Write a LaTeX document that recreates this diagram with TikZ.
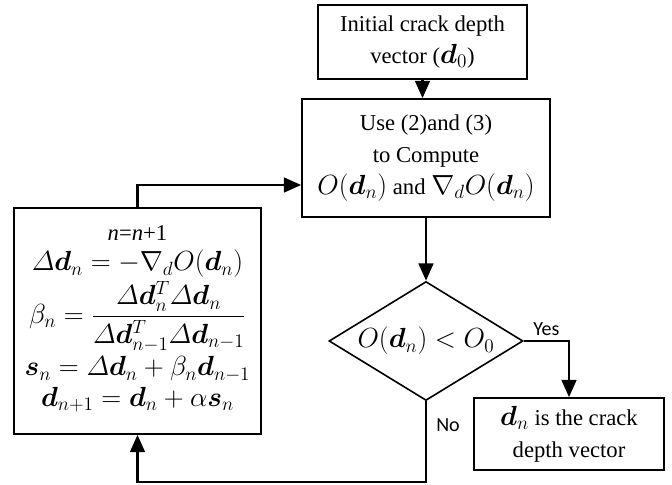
\documentclass[tikz,border=0pt]{standalone}
\usepackage{amsmath}
\usepackage{bm}
\usepackage[no-math]{fontspec}
\setmainfont{Liberation Serif}
\newfontfamily\answerfont{Carlito}
\usetikzlibrary{arrows.meta}
\usetikzlibrary{shapes.geometric}
\usetikzlibrary{positioning}

% math a little larger than the text, as in the figure
\newcommand{\bigmath}[1]{{\fontsize{20}{24}\selectfont$#1$}}

\begin{document}
\begin{tikzpicture}[
    x=0.75pt, y=-0.75pt,
    box/.style={rectangle, draw, line width=1.2pt, align=center, inner sep=2pt,
        font=\fontsize{17}{24}\selectfont},
    decision/.style={diamond, draw, line width=1.2pt, inner sep=0pt},
    answer/.style={font=\answerfont\fontsize{15}{18}\selectfont},
    flow/.style={line width=2pt, -{Triangle[length=13pt, width=11pt]}}
]
\useasboundingbox (0,0) rectangle (672,485);

% --- Start box ---
\node[box, minimum width=156.75pt, minimum height=55.5pt] (init) at (422.5,42)
    {Initial crack depth\\ vector (\bigmath{\bm{d}_0})};

% --- Objective and gradient ---
\node[box, minimum width=186pt, minimum height=88.5pt] (compute) at (426,158)
    {Use (2)and (3)\\ to Compute\\ \bigmath{O(\bm{d}_n)} and \bigmath{\nabla_d O(\bm{d}_n)}};

% --- Stopping test ---
\node[decision, minimum width=145.5pt, minimum height=89.25pt] (check) at (426,341)
    {\makebox[0pt]{\bigmath{O(\bm{d}_n) < O_0}}};

% --- Result box ---
\node[box, minimum width=142.5pt, minimum height=54pt] (result) at (569,434)
    {\bigmath{\bm{d}_n} is the crack\\ depth vector};

% --- Update step ---
\node[box, minimum width=185.25pt, minimum height=169.5pt] (update) at (137.5,321)
    {\bigmath{\begin{gathered}
        \text{\normalfont\fontsize{17}{20}\selectfont\textit{n}=\textit{n}+1}\\[-4pt]
        \varDelta\bm{d}_n = -\nabla_d O(\bm{d}_n)\\[-3pt]
        \beta_n = \dfrac{\varDelta\bm{d}_n^T\varDelta\bm{d}_n}
            {\varDelta\bm{d}_{n-1}^T\varDelta\bm{d}_{n-1}}\\[-3pt]
        \bm{s}_n = \varDelta\bm{d}_n + \beta_n\bm{d}_{n-1}\\[-4pt]
        \bm{d}_{n+1} = \bm{d}_n + \alpha\bm{s}_n
     \end{gathered}}\\[5pt]};

% --- Loop corners ---
\coordinate (low) at (426,482);
\coordinate (back) at (138,185);

% --- Connectors ---
\draw[flow] (init.south) -- (init.south |- compute.north);
\draw[flow] (compute.south) -- (check.north);
\draw[flow] (check.east) -| (result.north)
    node[answer, pos=0.25, above] {Yes};
\draw[flow] (check.south) -- (low) -| (update.south);
\node[answer] (no) at (448,425) {No};
\draw[flow] (update.north) -- (update.north |- back) -- (back -| compute.west);

\end{tikzpicture}
\end{document}
